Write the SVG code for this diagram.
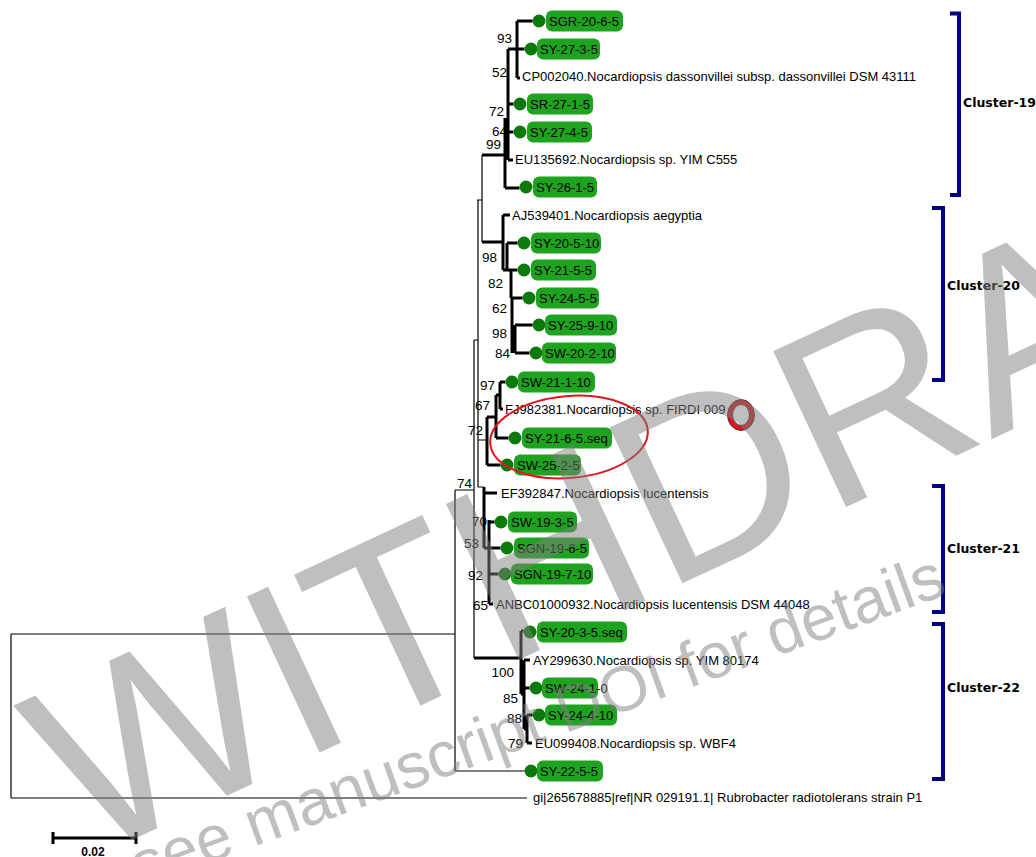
<svg xmlns="http://www.w3.org/2000/svg" width="1036" height="857" viewBox="0 0 1036 857">
<style>
.t{fill:none;stroke:#000;stroke-width:1.2}
.k{fill:none;stroke:#000;stroke-width:3}
.br{fill:none;stroke:#000080;stroke-width:4}
.dot{fill:#0b7a0b}
.pill{fill:#1ea31e}
.pt{font-family:"Liberation Sans",Arial,sans-serif;font-size:13px;fill:#000}
.lt{font-family:"Liberation Sans",Arial,sans-serif;font-size:13px;fill:#000}
.bs{font-family:"Liberation Sans",Arial,sans-serif;font-size:13.5px;fill:#000;text-anchor:end}
.cl{font-family:"DejaVu Sans",Verdana,sans-serif;font-size:12.5px;font-weight:bold;fill:#000}
.wm{font-family:"Liberation Sans",Arial,sans-serif;fill:#808080;opacity:0.5}
</style>
<rect width="1036" height="857" fill="#fff"/>
<g id="connectors">
<path class="t" d="M11,634V798M11,634H455M11,798H527M455,490V771M455,771H524.5M455,490H474M474,340V658M474,340H478M478,200V487M477,200H482M482,155V242M478,440H487M478,487H484"/>
<path class="k" d="M482,155H505M505,118V188M505,188H519.5M508,49V160M508,160H513M508,49H524.5M517,21V78M517,21H532.5M517,78H520M508,104H513.5M508,132H513.5"/>
<path class="k" d="M482,242H503M503,215V270M503,215H510M503,270H517.5M511,270V298M512,298V353M512,298H522.5M515,325V353M515,325H532.5M515,353H529.5"/>
<path class="k" d="M507,243V270M507,243H517.5"/>
<path class="k" d="M487,417V465M487,417H496M487,465H500.5M496,395V438M496,438H508.5M496,395H500M500,382V409M500,382H505.5M500,409H503"/>
<path class="k" d="M483,493H497M484,487V548M484,548H489M489,520V604M489,522H494.5M489,548H500.5M489,574H498.5M489,604H493"/>
<path class="k" d="M474,658H521M521,631V694M521,631H523.5M521,694H524M524,660V729M524,660H530M524,688H529.5M524,729H527M527,715V743M527,715H532.5M527,743H532"/>
</g>
<g id="bootstrap">
<text class="bs" x="512" y="43">93</text>
<text class="bs" x="507" y="77">52</text>
<text class="bs" x="504" y="116">72</text>
<text class="bs" x="507" y="136">64</text>
<text class="bs" x="501" y="149">99</text>
<text class="bs" x="497" y="262">98</text>
<text class="bs" x="503" y="288">82</text>
<text class="bs" x="507" y="313">62</text>
<text class="bs" x="507" y="338">98</text>
<text class="bs" x="510" y="358">84</text>
<text class="bs" x="495" y="390">97</text>
<text class="bs" x="490" y="410">67</text>
<text class="bs" x="483" y="435">72</text>
<text class="bs" x="472" y="488">74</text>
<text class="bs" x="487" y="526">70</text>
<text class="bs" x="479" y="548">53</text>
<text class="bs" x="483" y="580">92</text>
<text class="bs" x="488" y="610">65</text>
<text class="bs" x="514" y="677">100</text>
<text class="bs" x="518" y="703">85</text>
<text class="bs" x="522" y="723">88</text>
<text class="bs" x="523" y="748">79</text>
</g>
<g id="n1"><circle class="dot" cx="539" cy="21" r="6.5"/><rect class="pill" x="546" y="10.5" width="77" height="21" rx="6"/><text class="pt" x="549" y="26">SGR-20-6-5</text></g>
<g id="n2"><circle class="dot" cx="531" cy="49" r="6.5"/><rect class="pill" x="537" y="38.5" width="63" height="21" rx="6"/><text class="pt" x="540" y="54">SY-27-3-5</text></g>
<g id="n3"><text class="lt" x="522" y="81">CP002040.Nocardiopsis dassonvillei subsp. dassonvillei DSM 43111</text></g>
<g id="n4"><circle class="dot" cx="520" cy="104" r="6.5"/><rect class="pill" x="527" y="93.5" width="66" height="21" rx="6"/><text class="pt" x="530" y="109">SR-27-1-5</text></g>
<g id="n5"><circle class="dot" cx="520" cy="132" r="6.5"/><rect class="pill" x="527" y="121.5" width="65" height="21" rx="6"/><text class="pt" x="530" y="137">SY-27-4-5</text></g>
<g id="n6"><text class="lt" x="515" y="164">EU135692.Nocardiopsis sp. YIM C555</text></g>
<g id="n7"><circle class="dot" cx="526" cy="187" r="6.5"/><rect class="pill" x="533" y="176.5" width="64" height="21" rx="6"/><text class="pt" x="536" y="192">SY-26-1-5</text></g>
<g id="n8"><text class="lt" x="512" y="220">AJ539401.Nocardiopsis aegyptia</text></g>
<g id="n9"><circle class="dot" cx="524" cy="243" r="6.5"/><rect class="pill" x="531" y="232.5" width="70" height="21" rx="6"/><text class="pt" x="534" y="248">SY-20-5-10</text></g>
<g id="n10"><circle class="dot" cx="524" cy="270" r="6.5"/><rect class="pill" x="531" y="259.5" width="65" height="21" rx="6"/><text class="pt" x="534" y="275">SY-21-5-5</text></g>
<g id="n11"><circle class="dot" cx="529" cy="298" r="6.5"/><rect class="pill" x="536" y="287.5" width="63" height="21" rx="6"/><text class="pt" x="539" y="303">SY-24-5-5</text></g>
<g id="n12"><circle class="dot" cx="539" cy="325" r="6.5"/><rect class="pill" x="545" y="314.5" width="72" height="21" rx="6"/><text class="pt" x="548" y="330">SY-25-9-10</text></g>
<g id="n13"><circle class="dot" cx="536" cy="353" r="6.5"/><rect class="pill" x="542" y="342.5" width="74" height="21" rx="6"/><text class="pt" x="545" y="358">SW-20-2-10</text></g>
<g id="n14"><circle class="dot" cx="512" cy="382" r="6.5"/><rect class="pill" x="518" y="371.5" width="77" height="21" rx="6"/><text class="pt" x="521" y="387">SW-21-1-10</text></g>
<g id="n15"><text class="lt" x="505" y="414">FJ982381.Nocardiopsis sp. FIRDI 009</text></g>
<g id="n16"><circle class="dot" cx="515" cy="438" r="6.5"/><rect class="pill" x="522" y="427.5" width="90" height="21" rx="6"/><text class="pt" x="525" y="443">SY-21-6-5.seq</text></g>
<g id="n17"><circle class="dot" cx="507" cy="465" r="6.5"/><rect class="pill" x="514" y="454.5" width="67" height="21" rx="6"/><text class="pt" x="517" y="470">SW-25-2-5</text></g>
<g id="n18"><text class="lt" x="501" y="498">EF392847.Nocardiopsis lucentensis</text></g>
<g id="n19"><circle class="dot" cx="501" cy="522" r="6.5"/><rect class="pill" x="508" y="511.5" width="69" height="21" rx="6"/><text class="pt" x="511" y="527">SW-19-3-5</text></g>
<g id="n20"><circle class="dot" cx="507" cy="548" r="6.5"/><rect class="pill" x="514" y="537.5" width="75" height="21" rx="6"/><text class="pt" x="517" y="553">SGN-19-6-5</text></g>
<g id="n21"><circle class="dot" cx="505" cy="574" r="6.5"/><rect class="pill" x="511" y="563.5" width="82" height="21" rx="6"/><text class="pt" x="514" y="579">SGN-19-7-10</text></g>
<g id="n22"><text class="lt" x="496" y="609">ANBC01000932.Nocardiopsis lucentensis DSM 44048</text></g>
<g id="n23"><circle class="dot" cx="530" cy="632" r="6.5"/><rect class="pill" x="537" y="621.5" width="90" height="21" rx="6"/><text class="pt" x="540" y="637">SY-20-3-5.seq</text></g>
<g id="n24"><text class="lt" x="533" y="665">AY299630.Nocardiopsis sp. YIM 80174</text></g>
<g id="n25"><circle class="dot" cx="536" cy="688" r="6.5"/><rect class="pill" x="542" y="677.5" width="56" height="21" rx="6"/><text class="pt" x="545" y="693">SW-24-1-0</text></g>
<g id="n26"><circle class="dot" cx="539" cy="715" r="6.5"/><rect class="pill" x="545" y="704.5" width="72" height="21" rx="6"/><text class="pt" x="548" y="720">SY-24-4-10</text></g>
<g id="n27"><text class="lt" x="535" y="748">EU099408.Nocardiopsis sp. WBF4</text></g>
<g id="n28"><circle class="dot" cx="531" cy="771" r="6.5"/><rect class="pill" x="537" y="760.5" width="66" height="21" rx="6"/><text class="pt" x="540" y="776">SY-22-5-5</text></g>
<g id="n29"><text class="lt" x="533" y="802">gi|265678885|ref|NR 029191.1| Rubrobacter radiotolerans strain P1</text></g>
<g id="clusters">
<path class="br" d="M950,13.5H959V195H950"/>
<text class="cl" x="963" y="107">Cluster-19</text>
<path class="br" d="M932,208H943V380H932"/>
<text class="cl" x="947" y="290">Cluster-20</text>
<path class="br" d="M932,486H943V612H932"/>
<text class="cl" x="947" y="553">Cluster-21</text>
<path class="br" d="M932,624H943V779H932"/>
<text class="cl" x="947" y="692">Cluster-22</text>
</g>
<g id="highlight">
<ellipse cx="569" cy="437" rx="79" ry="41" transform="rotate(-5 569 437)" fill="none" stroke="#e3141c" stroke-width="2"/>
<ellipse cx="741" cy="415" rx="11" ry="13" fill="#fff" stroke="#e3141c" stroke-width="4.5"/>
<ellipse cx="741" cy="415" rx="13.5" ry="15.5" fill="none" stroke="#333" stroke-width="1"/>
<ellipse cx="741" cy="415" rx="8.5" ry="10.5" fill="none" stroke="#333" stroke-width="1"/>
</g>
<g id="scalebar">
<path d="M53,838H136M53,832V844M136,832V844" fill="none" stroke="#000" stroke-width="3"/>
<text x="93" y="856" text-anchor="middle" font-family="Liberation Sans, Arial, sans-serif" font-size="12" font-weight="bold">0.02</text>
</g>
<g id="watermark">
<text class="wm" x="85" y="862" font-size="250" transform="rotate(-25 85 862)">WITHDRAWN</text>
<text class="wm" x="140" y="888" font-size="64" transform="rotate(-20 140 888)">see manuscript DOI for details</text>
</g>
</svg>
